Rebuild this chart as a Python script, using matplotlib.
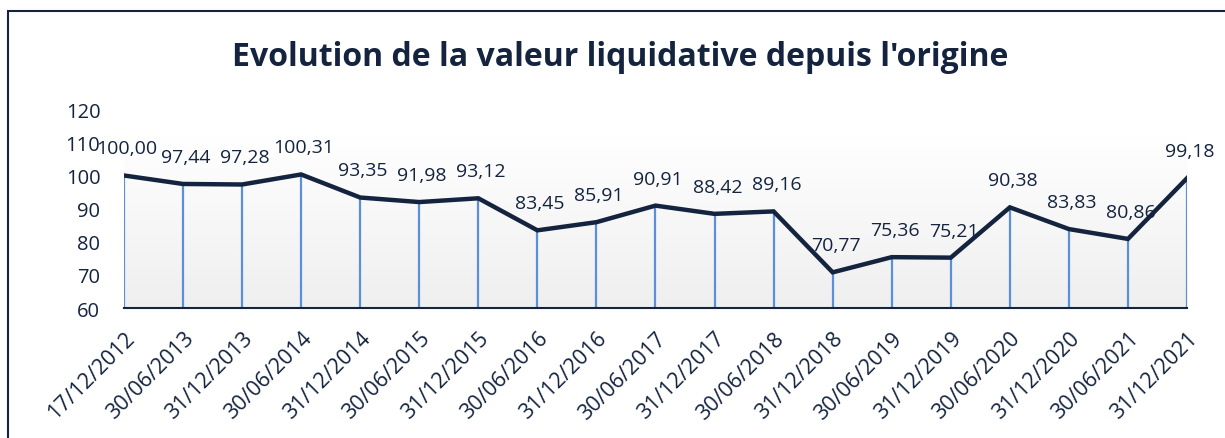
import matplotlib.pyplot as plt
import numpy as np
from matplotlib.patches import Rectangle
from matplotlib.colors import LinearSegmentedColormap

# donnees
dates = ["17/12/2012", "30/06/2013", "31/12/2013", "30/06/2014", "31/12/2014",
         "30/06/2015", "31/12/2015", "30/06/2016", "31/12/2016", "30/06/2017",
         "31/12/2017", "30/06/2018", "31/12/2018", "30/06/2019", "31/12/2019",
         "30/06/2020", "31/12/2020", "30/06/2021", "31/12/2021"]
valeurs = [100.00, 97.44, 97.28, 100.31, 93.35, 91.98, 93.12, 83.45, 85.91, 90.91,
           88.42, 89.16, 70.77, 75.36, 75.21, 90.38, 83.83, 80.86, 99.18]
yticks = [60, 70, 80, 90, 100, 110, 120]

navy = "#14243f"
bleu = "#5b8fd9"
plt.rcParams['font.family'] = ['Open Sans', 'DejaVu Sans']

fig = plt.figure(figsize=(12.25, 4.39), dpi=100)
ax = fig.add_axes([0.1012, 0.296, 0.8678, 0.453])

x = np.arange(len(valeurs))

# fond en degrade de la zone de trace
grad = np.linspace(0, 1, 256).reshape(-1, 1)
cmap = LinearSegmentedColormap.from_list("g", ["#ffffff", "#efefef"])
ax.imshow(grad, extent=(0, len(valeurs) - 1, 60, 111.8), aspect='auto',
          cmap=cmap, origin='upper', zorder=0)

# lignes verticales + courbe
ax.vlines(x, 60, valeurs, colors=bleu, lw=1.6, zorder=2)
ax.plot(x, valeurs, color=navy, lw=3.2, zorder=3, solid_joinstyle='miter')

for xi, v in zip(x, valeurs):
    ax.annotate(f"{v:.2f}".replace(".", ","), (xi, v), xytext=(2, 13),
                textcoords='offset points', ha='center', va='bottom',
                fontsize=14, color=navy, zorder=4)

ax.set_xlim(0, len(valeurs) - 1)
ax.set_ylim(60, 120)
ax.set_yticks(yticks)
ax.set_yticklabels([str(t) for t in yticks], fontsize=14.5, color=navy)
ax.set_xticks(x)
ax.set_xticklabels(dates, rotation=45, ha='right', rotation_mode='anchor',
                   fontsize=15.5, color=navy)
ax.tick_params(axis='both', length=0)
ax.tick_params(axis='y', pad=17)
ax.tick_params(axis='x', pad=14)
for s in ['top', 'right', 'left']:
    ax.spines[s].set_visible(False)
ax.spines['bottom'].set_color(navy)
ax.spines['bottom'].set_linewidth(1.5)
ax.spines['bottom'].set_zorder(5)

fig.text(0.506, 0.868, "Evolution de la valeur liquidative depuis l'origine",
         ha='center', va='center', fontsize=23, fontweight='bold', color=navy)

# cadre
fig.patches.append(Rectangle((8 / 1225, -0.1), 1.2, 1.1 - 12 / 439,
                             transform=fig.transFigure, fill=False,
                             edgecolor=navy, lw=1.5))

fig.savefig("out.png", dpi=100)
